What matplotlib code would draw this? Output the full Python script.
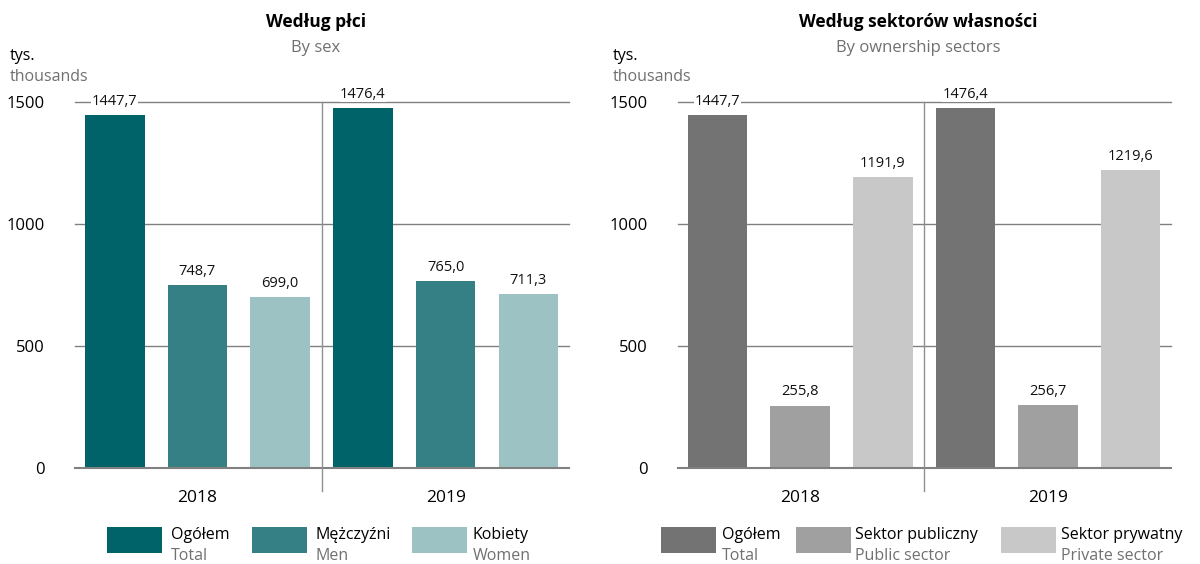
import numpy as np
import matplotlib.pyplot as plt
from matplotlib.patches import Rectangle

plt.rcParams['font.family'] = ['Open Sans', 'DejaVu Sans']

years = ['2018', '2019']

# by sex
sex_pl = ['Ogółem', 'Mężczyźni', 'Kobiety']
sex_en = ['Total', 'Men', 'Women']
sex_2018 = [1447.7, 748.7, 699.0]
sex_2019 = [1476.4, 765.0, 711.3]
sex_colors = ['#00636a', '#348084', '#9cc2c4']

# by ownership sector
own_pl = ['Ogółem', 'Sektor publiczny', 'Sektor prywatny']
own_en = ['Total', 'Public sector', 'Private sector']
own_2018 = [1447.7, 255.8, 1191.9]
own_2019 = [1476.4, 256.7, 1219.6]
own_colors = ['#737373', '#a0a0a0', '#c8c8c8']

yticks = [0, 500, 1000, 1500]

W, H = 1200, 564
fig = plt.figure(figsize=(W / 100, H / 100), dpi=100)


def fmt(v):
    return f"{v:.1f}".replace('.', ',')


def panel(rect, title, subtitle, v18, v19, colors, names_pl, names_en, leg_x, text_x):
    ax = fig.add_axes(rect)
    vals = list(v18) + list(v19)
    cols = list(colors) * 2
    x = np.arange(len(vals))
    ax.set_xlim(-0.48, 5.49)
    ax.set_ylim(0, 1500)
    for yv in yticks[1:]:
        ax.axhline(yv, color='#808080', lw=1, zorder=1, clip_on=False)
    ax.bar(x, vals, width=0.72, color=cols, zorder=2)
    ax.axhline(0, color='#808080', lw=1.5, zorder=3, clip_on=False)
    ax.plot([2.5, 2.5], [1500, -95], color='#909090', lw=1, zorder=3, clip_on=False)
    for xi, v in zip(x, vals):
        ax.annotate(fmt(v), (xi, v), xytext=(0, 4.5), textcoords='offset points',
                    ha='center', va='bottom', fontsize=10.5, color='#111111',
                    bbox=dict(facecolor='white', edgecolor='none', pad=0.3),
                    zorder=4, annotation_clip=False)
    ax.set_xticks([1, 4])
    ax.set_xticklabels(years, fontsize=12.5)
    ax.tick_params(axis='x', length=0, pad=16)
    ax.set_yticks(yticks)
    ax.set_yticklabels([str(t) for t in yticks], fontsize=12)
    ax.tick_params(axis='y', length=0, pad=22)
    for s in ax.spines.values():
        s.set_visible(False)

    cx = rect[0] + rect[2] / 2 - 0.005
    fig.text(cx, 1 - 22 / H, title, ha='center', va='center', fontsize=12.5, fontweight='bold')
    fig.text(cx, 1 - 48 / H, subtitle, ha='center', va='center', fontsize=12, color='#707070')
    lx = rect[0] * W - 65
    fig.text(lx / W, 1 - 56 / H, 'tys.', ha='left', va='center', fontsize=11.5)
    fig.text(lx / W, 1 - 77 / H, 'thousands', ha='left', va='center', fontsize=11.5, color='#707070')

    for px, tx, c, npl, nen in zip(leg_x, text_x, colors, names_pl, names_en):
        fig.patches.append(Rectangle((px / W, 1 - 553 / H), 55 / W, 26 / H,
                                     transform=fig.transFigure, facecolor=c, edgecolor='none'))
        fig.text(tx / W, 1 - 535 / H, npl, ha='left', va='center', fontsize=11.5)
        fig.text(tx / W, 1 - 556 / H, nen, ha='left', va='center', fontsize=11.5, color='#707070')
    return ax


panel([75 / W, 1 - 468 / H, 494 / W, 366 / H], 'Według płci', 'By sex',
      sex_2018, sex_2019, sex_colors, sex_pl, sex_en,
      [107, 252, 412], [171, 316, 473])
panel([678 / W, 1 - 468 / H, 493 / W, 366 / H], 'Według sektorów własności', 'By ownership sectors',
      own_2018, own_2019, own_colors, own_pl, own_en,
      [661, 796, 1001], [722, 855, 1061])

fig.savefig('out.png', dpi=100)
